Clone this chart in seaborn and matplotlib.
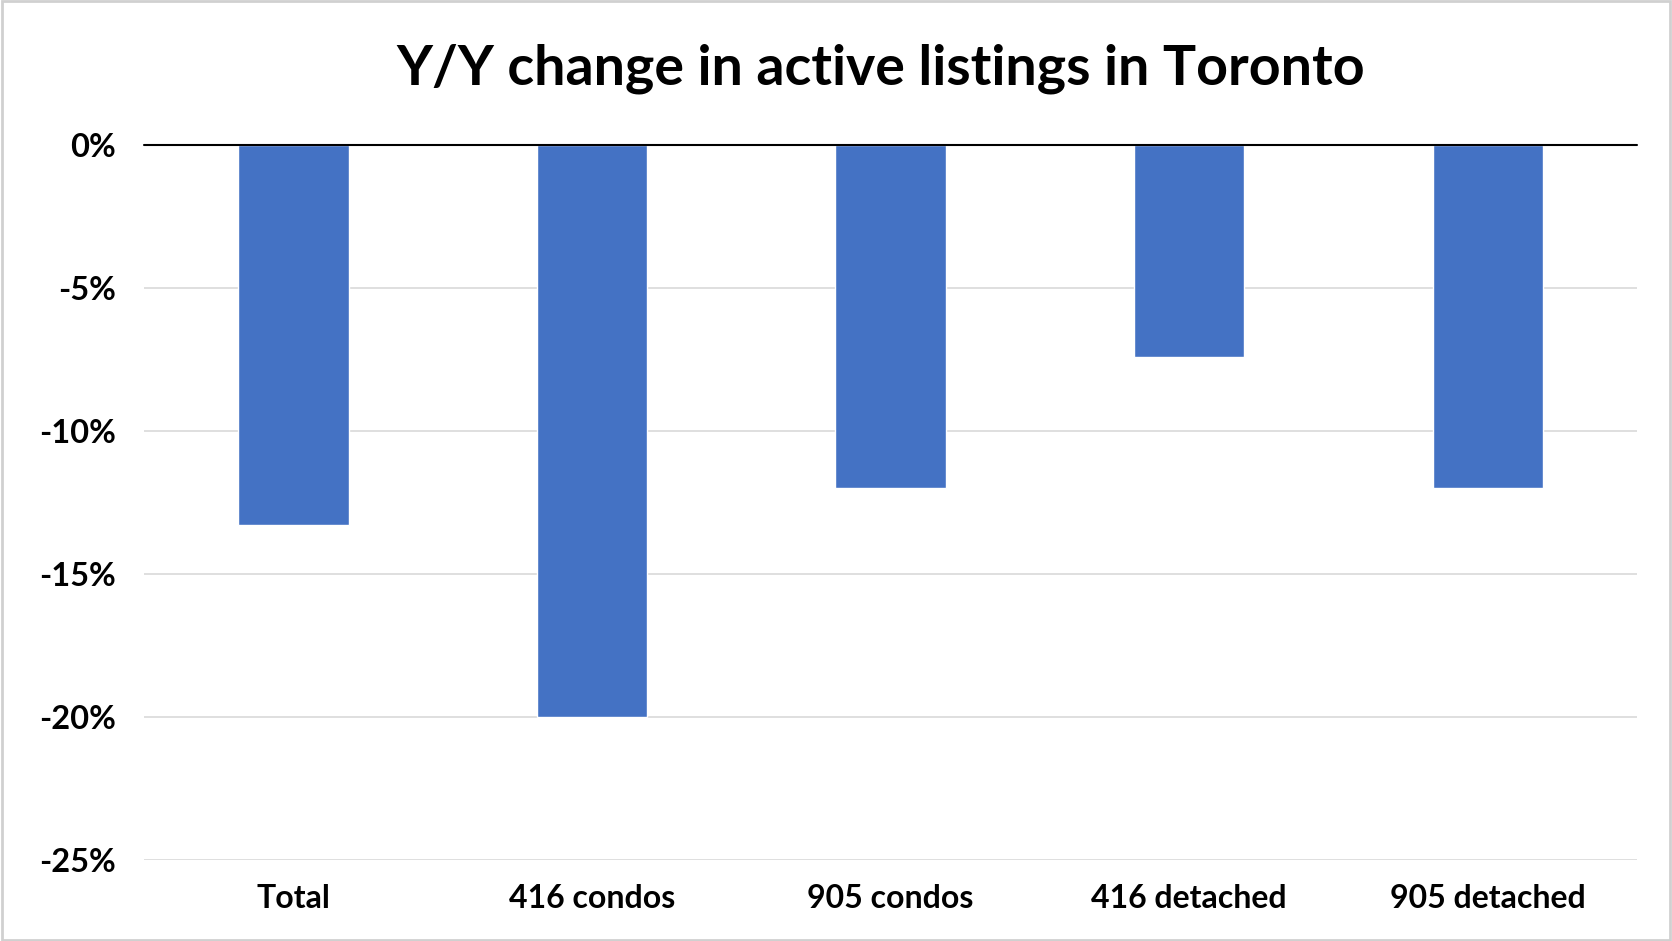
import numpy as np
import pandas as pd
import matplotlib
matplotlib.use("Agg")
import matplotlib.pyplot as plt
from matplotlib.patches import Rectangle
from matplotlib.ticker import FuncFormatter
import seaborn as sns

# data
categories = ["Total", "416 condos", "905 condos", "416 detached", "905 detached"]
yoy_change = [-13.3, -20.0, -12.0, -7.4, -12.0]
y_ticks = [0, -5, -10, -15, -20, -25]

df = pd.DataFrame({"Category": categories, "Change": yoy_change})

sns.set_style("white")
plt.rcParams["font.family"] = ["Lato", "DejaVu Sans"]

fig = plt.figure(figsize=(16.72, 9.41), dpi=100)
ax = fig.add_axes([0.0861, 0.086, 0.893, 0.760])

sns.barplot(data=df, x="Category", y="Change", color="#4472C4",
            width=0.37, saturation=1, ax=ax, zorder=3)

ax.set_ylim(-25, 0)
ax.set_yticks(y_ticks)
ax.yaxis.set_major_formatter(FuncFormatter(lambda v, p: f"{v:.0f}%"))
ax.grid(axis="y", color="#d9d9d9", linewidth=1.2, zorder=0)
ax.axhline(0, color="black", linewidth=1.5, zorder=4, clip_on=False)
for s in ax.spines.values():
    s.set_visible(False)
ax.tick_params(axis="y", length=0, pad=20, labelsize=23.5, labelcolor="black")
ax.tick_params(axis="x", length=0, pad=17, labelsize=23, labelcolor="black")
for lbl in ax.get_xticklabels() + ax.get_yticklabels():
    lbl.set_fontweight("bold")
ax.set_xlabel("")
ax.set_ylabel("")

fig.text(0.527, 0.927, "Y/Y change in active listings in Toronto",
         ha="center", va="center", fontsize=40, fontweight="bold", color="black")

fig.patches.append(Rectangle((0.001, 0.001), 0.998, 0.998, transform=fig.transFigure,
                             fill=False, edgecolor="#d0d0d0", linewidth=2))

fig.savefig("out.png", dpi=100)
